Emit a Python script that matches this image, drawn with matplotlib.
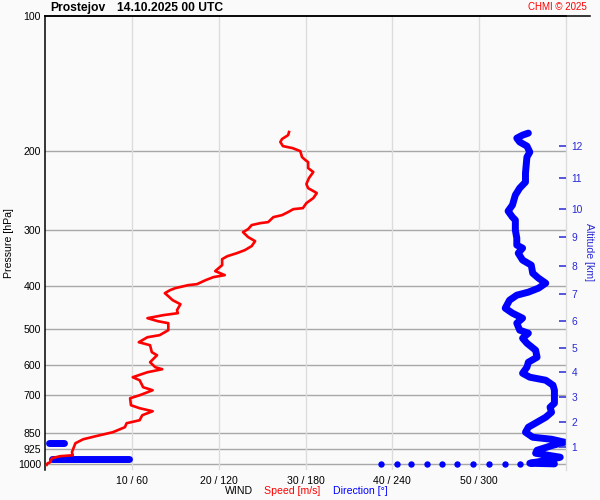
import matplotlib
matplotlib.use('Agg')
import matplotlib.pyplot as plt
from matplotlib.lines import Line2D
from matplotlib.ticker import NullFormatter, NullLocator

plt.rcParams['font.family'] = ['Liberation Sans', 'DejaVu Sans']

# wind speed profile (m/s) vs pressure (hPa)
speed_p = [181.5, 184.4, 188.1, 191.0, 195.1, 197.1, 200.2, 206.4, 209.7, 211.8,
           218.4, 222.9, 229.9, 237.1, 242.1, 248.3, 254.8, 261.5, 268.3, 269.7,
           273.8, 278.1, 281.0, 288.3, 289.8, 292.7, 298.8, 303.5, 311.4, 317.9,
           326.1, 333.0, 338.1, 343.4, 348.7, 359.6, 370.8, 378.5, 382.4, 388.4,
           396.5, 398.5, 404.7, 408.9, 415.3, 421.7, 430.5, 439.5, 453.2, 460.2,
           465.0, 472.2, 479.6, 484.5, 502.2, 515.3, 520.7, 534.3, 542.6, 562.3,
           571.2, 592.1, 607.5, 613.8, 623.3, 639.5, 649.5, 673.3, 683.7, 701.5,
           712.4, 738.5, 749.9, 761.6, 777.4, 797.6, 810.0, 826.7, 848.4, 861.6,
           879.5, 897.7, 940.2, 954.8, 959.7, 969.6, 989.8, 994.9, 1003]
speed = [28.1, 28.0, 27.3, 27.1, 27.4, 28.5, 29.4, 29.6, 30.0, 30.3,
         30.3, 30.9, 30.4, 30.1, 30.3, 31.3, 30.9, 30.1, 29.7, 28.6,
         28.0, 27.3, 26.3, 25.7, 24.8, 23.8, 23.4, 22.8, 23.4, 24.2,
         23.8, 23.0, 22.1, 21.0, 20.4, 20.4, 19.6, 20.7, 19.4, 18.5,
         17.5, 16.5, 15.0, 14.4, 13.8, 14.2, 14.7, 15.6, 15.2, 15.3,
         13.6, 11.8, 13.0, 14.2, 14.2, 13.2, 11.8, 10.8, 12.1, 12.3,
         12.9, 12.1, 12.7, 13.5, 11.8, 10.1, 10.9, 11.3, 12.4, 10.9,
         9.8, 9.9, 10.9, 12.4, 11.2, 10.9, 9.4, 9.2, 7.8, 6.3,
         4.4, 3.5, 3.1, 3.2, 1.7, 0.8, 0.6, 0.3, 0.2]

# wind direction (deg) vs pressure (hPa), main branch near 330 deg
dir_p = [182.5, 184.4, 187.3, 191.0, 195.1, 201.2, 206.4, 224.1, 234.7, 242.1,
         250.9, 264.1, 272.4, 281.0, 285.3, 300.3, 313.0, 324.4, 329.5, 338.1,
         350.4, 359.6, 374.7, 384.5, 394.5, 404.7, 413.1, 419.6, 430.5, 448.6,
         460.2, 472.2, 484.5, 502.2, 510.1, 523.4, 537.0, 556.7, 577.1, 592.1,
         607.5, 626.6, 639.5, 649.5, 666.4, 683.7, 712.4, 730.9, 746.1, 765.6,
         785.4, 805.9, 826.7, 848.4, 870.5, 879.5, 893.1, 907.0, 930.7, 945.0,
         964.6, 979.7, 994.9, 998]
direction = [334, 330, 326, 328, 333, 335, 333, 332, 332, 328,
             325, 323, 320, 323, 325, 325, 326, 326, 330, 327,
             330, 336, 337, 341, 346, 341, 334, 326, 321, 318,
             323, 330, 326, 328, 334, 330, 333, 339, 340, 334,
             333, 330, 335, 346, 351, 352, 352, 352, 349, 350,
             346, 340, 334, 332, 337, 350, 359, 351, 340, 339,
             356, 347, 335, 352]

# direction wrapped past north (near 0 deg)
dir_n1 = [3, 13]
dir_n1_p = [897, 897]
dir_n2 = [5, 58]
dir_n2_p = [975, 975]

# surface points
dir_sfc = [232, 243, 253, 264, 274, 285, 296, 307, 318, 328]
dir_sfc_p = [1000] * len(dir_sfc)

p_ticks = [100, 200, 300, 400, 500, 600, 700, 850, 925, 1000]
x_ticks = [10, 20, 30, 40, 50]
x_labels = ['10 / 60', '20 / 120', '30 / 180', '40 / 240', '50 / 300']

alt_km = [1, 2, 3, 4, 5, 6, 7, 8, 9, 10, 11, 12]
alt_p = [916, 806, 709, 623, 551, 480, 417, 361, 311, 270, 230, 195]

bg = '#fafafa'
blue = '#0000ff'
red = '#ff0000'
tickblue = '#2a2ad6'

fig = plt.figure(figsize=(6, 5), dpi=100, facecolor=bg)
ax = fig.add_axes([45/600, 1 - 470/500, 521/600, 454/500], facecolor=bg)

ax.set_yscale('log')
ax.set_ylim(1030, 100)
ax.set_xlim(0, 60)

# grid
for p in p_ticks[1:]:
    ax.axhline(p, color='#a8a8a8', lw=1.0, zorder=1)
for x in x_ticks:
    ax.axvline(x, color='#dcdcdc', lw=1.0, zorder=1)

# direction (deg) -> plotted on speed scale (60 m/s == 360 deg)
k = 60 / 360
line_kw = dict(color=blue, lw=5.0, solid_capstyle='round', solid_joinstyle='round', zorder=2)
ax.plot([d * k for d in direction], dir_p, **line_kw)
ax.plot([d * k for d in dir_n1], dir_n1_p, **line_kw)
ax.plot([d * k for d in dir_n2], dir_n2_p, **line_kw)
ax.plot([d * k for d in dir_sfc], dir_sfc_p, 'o', color=blue, ms=4.6, mec='none', zorder=2)

ax.plot(speed, speed_p, color=red, lw=1.9, zorder=3)

ax.yaxis.set_minor_locator(NullLocator())
ax.yaxis.set_minor_formatter(NullFormatter())
ax.set_yticks(p_ticks)
ax.set_yticklabels([str(p) for p in p_ticks])
ax.set_xticks(x_ticks)
ax.set_xticklabels(x_labels)
ax.tick_params(axis='both', length=0, labelsize=7.6, colors='black')
ax.tick_params(axis='y', pad=3)
ax.tick_params(axis='x', pad=4)

ax.spines['bottom'].set_visible(False)
ax.spines['left'].set_color('black')
ax.spines['left'].set_linewidth(1.1)
ax.spines['top'].set_color('black')
ax.spines['top'].set_linewidth(1.1)
ax.spines['right'].set_color('#dcdcdc')
ax.spines['right'].set_linewidth(1.0)

# extend the top border line to the right edge
fig.add_artist(Line2D([45/600, 590/600], [1 - 16/500, 1 - 16/500],
                      color='black', lw=1.1))

# altitude axis
ax2 = ax.twinx()
ax2.set_yscale('log')
ax2.set_ylim(1030, 100)
ax2.yaxis.set_minor_locator(NullLocator())
ax2.yaxis.set_minor_formatter(NullFormatter())
ax2.set_yticks(alt_p)
ax2.set_yticklabels([str(a) for a in alt_km])
ax2.tick_params(axis='y', direction='in', length=5, width=1.1, color=tickblue,
                labelcolor=tickblue, labelsize=7.4, pad=4)
for s in ax2.spines.values():
    s.set_visible(False)
ax2.patch.set_visible(False)

ax.set_ylabel('Pressure [hPa]', fontsize=7.6, labelpad=3)
fig.text(589/600, 1 - 252/500, 'Altitude [km]', rotation=270, color=tickblue,
         fontsize=7.6, ha='center', va='center')

fig.text(50/600, 1 - 8/500, 'Prostejov', fontsize=8.7, fontweight='bold',
         ha='left', va='center')
fig.text(117/600, 1 - 8/500, '14.10.2025 00 UTC', fontsize=8.7, fontweight='bold',
         ha='left', va='center')
fig.text(587/600, 1 - 7/500, 'CHMI \u00a9 2025', fontsize=7, color=red,
         ha='right', va='center')

fig.text(253/600, 1 - 491/500, 'WIND', fontsize=7.6, ha='right', va='center')
fig.text(264/600, 1 - 491/500, 'Speed [m/s]', fontsize=7.6, color=red,
         ha='left', va='center')
fig.text(333/600, 1 - 491/500, 'Direction [\u00b0]', fontsize=7.6, color=blue,
         ha='left', va='center')

fig.savefig('out.png', dpi=100, facecolor=bg)
